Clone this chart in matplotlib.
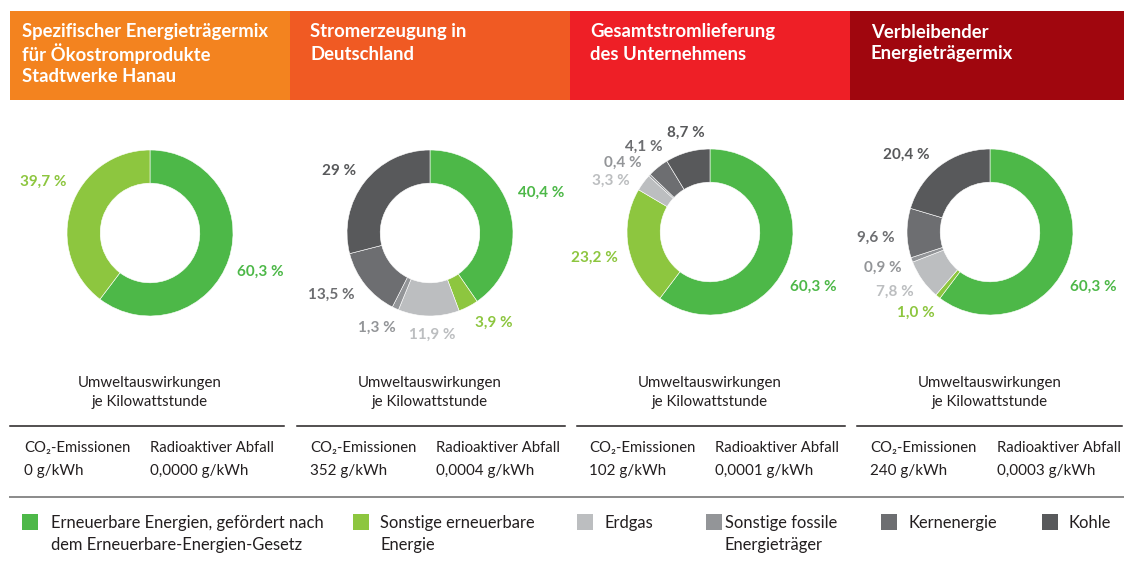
import matplotlib
matplotlib.use("Agg")
from matplotlib import pyplot as plt
from matplotlib.patches import Rectangle

plt.rcParams['font.family'] = ['Lato', 'DejaVu Sans']

# ---- data ----
titles = [["Spezifischer Energieträgermix", "für Ökostromprodukte", "Stadtwerke Hanau"],
          ["Stromerzeugung in", "Deutschland"],
          ["Gesamtstromlieferung", "des Unternehmens"],
          ["Verbleibender", "Energieträgermix"]]
categories = [["Erneuerbare Energien, gefördert nach", "dem Erneuerbare-Energien-Gesetz"],
              ["Sonstige erneuerbare", "Energie"],
              ["Erdgas"],
              ["Sonstige fossile", "Energieträger"],
              ["Kernenergie"],
              ["Kohle"]]
mix_oeko = [60.3, 39.7, 0, 0, 0, 0]
mix_de = [40.4, 3.9, 11.9, 1.3, 13.5, 29.0]
mix_gesamt = [60.3, 23.2, 3.3, 0.4, 4.1, 8.7]
mix_rest = [60.3, 1.0, 7.8, 0.9, 9.6, 20.4]
mixes = [mix_oeko, mix_de, mix_gesamt, mix_rest]
pct_labels = [["60,3 %", "39,7 %"],
              ["40,4 %", "3,9 %", "11,9 %", "1,3 %", "13,5 %", "29 %"],
              ["60,3 %", "23,2 %", "3,3 %", "0,4 %", "4,1 %", "8,7 %"],
              ["60,3 %", "1,0 %", "7,8 %", "0,9 %", "9,6 %", "20,4 %"]]
co2 = ["0 g/kWh", "352 g/kWh", "102 g/kWh", "240 g/kWh"]
radio = ["0,0000 g/kWh", "0,0004 g/kWh", "0,0001 g/kWh", "0,0003 g/kWh"]

# ---- styles / layout ----
header_colors = ["#F3831F", "#F05A23", "#EE1F26", "#A0060E"]
slice_colors = ["#4DB848", "#8DC63F", "#BCBEC0", "#939598", "#6D6E71", "#58595B"]
tc = "#231F20"
W, H = 1124, 566
R = 83
centers = [(150, 233), (430, 233), (710, 232), (990, 232)]
# label offsets (px, y down) from donut centre
label_offsets = [[(110, 39), (-107, -51)],
                 [(111, -40), (64, 90), (2, 102), (-53, 95), (-99, 62), (-91, -62)],
                 [(103, 55), (-116, 26), (-99, -51), (-87, -69), (-66, -85), (-24, -99)],
                 [(103, 55), (-74, 81), (-95, 60), (-107, 36), (-114, 6), (-84, -77)]]

fig = plt.figure(figsize=(W / 100, H / 100), dpi=100)
ax = fig.add_axes([0, 0, 1, 1])
ax.set_xlim(0, W)
ax.set_ylim(H, 0)
ax.axis("off")

# headers
bars = [(10, 290), (290, 570), (570, 850), (850, 1124)]
text_x = [22, 310, 590, 871]
for (x0, x1), c, t, tx in zip(bars, header_colors, titles, text_x):
    ax.add_patch(Rectangle((x0, 11), x1 - x0, 89, color=c, lw=0))
    for k, line in enumerate(t):
        ax.text(tx, 32 + 22 * k, line, color="white", fontsize=13.3, fontweight="bold",
                va="center", ha="left")

# donuts
h = 1.6 * R
for i, (cx, cy) in enumerate(centers):
    dax = fig.add_axes([(cx - h) / W, (H - cy - h) / H, 2 * h / W, 2 * h / H])
    vals = [v for v in mixes[i] if v > 0]
    cols = [c for v, c in zip(mixes[i], slice_colors) if v > 0]
    dax.pie(vals, colors=cols, startangle=90, counterclock=False, radius=1,
            wedgeprops=dict(width=0.4, edgecolor="white", linewidth=0.4))
    dax.set_xlim(-1.6, 1.6)
    dax.set_ylim(-1.6, 1.6)
    dax.set_aspect("auto")
    dax.axis("off")
    for lab, (dx, dy), c in zip(pct_labels[i], label_offsets[i], cols):
        ax.text(cx + dx, cy + dy, lab, color=c, fontsize=11, fontweight="bold",
                ha="center", va="center")

# impact block
lines_x = [(10, 284), (297, 565), (577, 845), (857, 1122)]
co2_x = [24, 310, 589, 870]
rad_x = [150, 436, 715, 997]
for i, (cx, cy) in enumerate(centers):
    ax.text(cx, 383, "Umweltauswirkungen", ha="center", va="center", fontsize=10.8, color=tc)
    ax.text(cx, 402, "je Kilowattstunde", ha="center", va="center", fontsize=10.8, color=tc)
    x0, x1 = lines_x[i]
    ax.plot([x0, x1], [426, 426], color=tc, lw=1.1)
    ax.text(co2_x[i], 448, "CO₂-Emissionen", ha="left", va="center", fontsize=10.7, color=tc)
    ax.text(rad_x[i], 448, "Radioaktiver Abfall", ha="left", va="center", fontsize=10.7, color=tc)
    ax.text(co2_x[i], 471, co2[i], ha="left", va="center", fontsize=10.9, color=tc)
    ax.text(rad_x[i], 471, radio[i], ha="left", va="center", fontsize=10.9, color=tc)
ax.plot([10, W], [497, 497], color="#8A8A8A", lw=1.4)

# legend
sq_x = [22, 353, 577, 706, 881, 1042]
txt_x = [51, 380, 604, 725, 908, 1068]
for c, lab, sx, tx in zip(slice_colors, categories, sq_x, txt_x):
    ax.add_patch(Rectangle((sx, 514), 16, 16, color=c, lw=0))
    for k, line in enumerate(lab):
        ax.text(tx, 523 + 22 * k, line, ha="left", va="center", fontsize=11.9, color=tc)

fig.savefig("out.png", dpi=100)
